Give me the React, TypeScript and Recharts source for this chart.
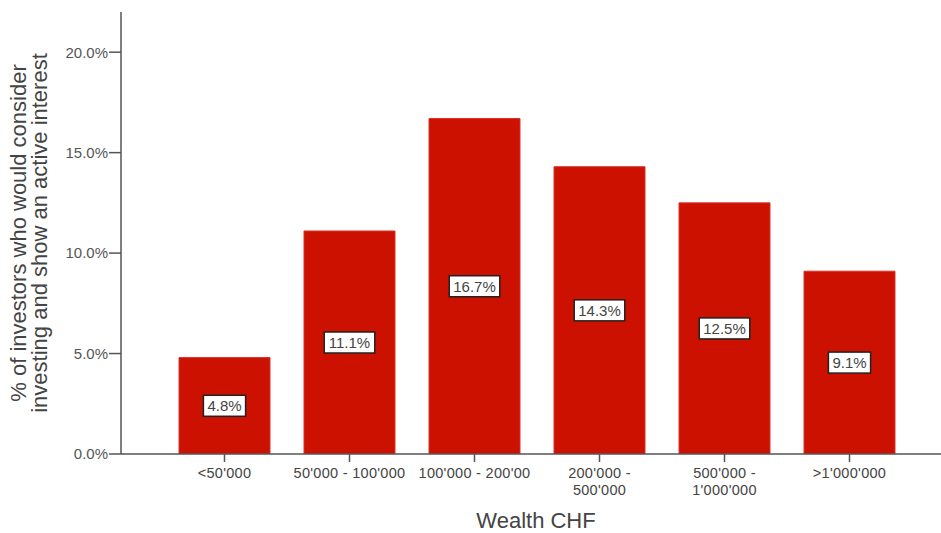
import React from "react";
import { BarChart, Bar, XAxis, YAxis, LabelList, Label } from "recharts";

const wealthBands = [
  "<50'000",
  "50'000 - 100'000",
  "100'000 - 200'00",
  "200'000 -\n500'000",
  "500'000 -\n1'000'000",
  ">1'000'000",
];
const interestShare = [4.8, 11.1, 16.7, 14.3, 12.5, 9.1];
const percentTicks = [0, 5, 10, 15, 20];

const data = wealthBands.map((band, i) => ({ band, share: interestShare[i] }));

const FONT = "'Liberation Sans', Arial, Helvetica, sans-serif";
const GREY = "#555";

// rough Arial advance widths (em) for the label boxes
const charWidth = (c: string) => (c === "." ? 0.278 : c === "%" ? 0.889 : 0.556);

const WealthTick = (props: any) => {
  const { x, y, payload } = props;
  const lines = String(payload.value).split("\n");
  return (
    <g transform={`translate(${x},${y})`}>
      {lines.map((line: string, i: number) => (
        <text
          key={i}
          x={0}
          y={14 + i * 16.5}
          textAnchor="middle"
          fontSize={14.5}
          letterSpacing={0.3}
          fontFamily={FONT}
          fill="#444"
        >
          {line}
        </text>
      ))}
    </g>
  );
};

const ValueBox = (props: any) => {
  const { x, y, width, height, value } = props;
  const text = `${Number(value).toFixed(1)}%`;
  const fs = 15;
  const textW = text.split("").reduce((s, c) => s + charWidth(c) * fs, 0);
  const boxW = textW + 8;
  const boxH = 21;
  const cx = x + width / 2;
  const cy = y + height / 2;
  return (
    <g>
      <rect
        x={cx - boxW / 2}
        y={cy - boxH / 2}
        width={boxW}
        height={boxH}
        fill="#fff"
        stroke="#222"
        strokeWidth={1.5}
      />
      <text
        x={cx}
        y={cy + 5.5}
        textAnchor="middle"
        fontSize={fs}
        fontFamily={FONT}
        fill="#444"
      >
        {text}
      </text>
    </g>
  );
};

const AxisTitle = (props: any) => {
  const { viewBox } = props;
  const cy = viewBox.y + viewBox.height / 2;
  return (
    <g fontSize={22} fontFamily={FONT} fill="#444">
      <text transform={`translate(26,${cy}) rotate(-90)`} textAnchor="middle">
        % of investors who would consider
      </text>
      <text transform={`translate(47,${cy}) rotate(-90)`} textAnchor="middle">
        investing and show an active interest
      </text>
    </g>
  );
};

const WealthTitle = (props: any) => {
  const { viewBox } = props;
  return (
    <text
      x={viewBox.x + viewBox.width / 2 + 5}
      y={528}
      textAnchor="middle"
      fontSize={22}
      fontFamily={FONT}
      fill="#444"
    >
      Wealth CHF
    </text>
  );
};

const App = () => {
  return (
    <div style={{ position: "absolute", left: 0, top: 0, background: "#fff" }}>
      <BarChart
        width={941}
        height={533}
        data={data}
        margin={{ top: 12, right: 0, left: 61, bottom: 49 }}
      >
        <XAxis
          dataKey="band"
          height={30}
          interval={0}
          padding={{ left: 41, right: 29 }}
          stroke={GREY}
          strokeWidth={1.5}
          tickSize={8}
          tick={<WealthTick />}
        >
          <Label content={<WealthTitle />} />
        </XAxis>
        <YAxis
          width={60}
          domain={[0, 22]}
          ticks={percentTicks}
          allowDataOverflow
          stroke={GREY}
          strokeWidth={1.5}
          tickSize={12}
          tickMargin={1}
          tickFormatter={(v: number) => `${v.toFixed(1)}%`}
          tick={{ fontSize: 15, fontFamily: FONT, fill: "#555" }}
        >
          <Label content={<AxisTitle />} />
        </YAxis>
        <Bar
          dataKey="share"
          fill="#cc1100"
          stroke="#d9342a"
          strokeWidth={1}
          barSize={91}
          isAnimationActive={false}
        >
          <LabelList dataKey="share" content={<ValueBox />} />
        </Bar>
      </BarChart>
    </div>
  );
};

export default App;
